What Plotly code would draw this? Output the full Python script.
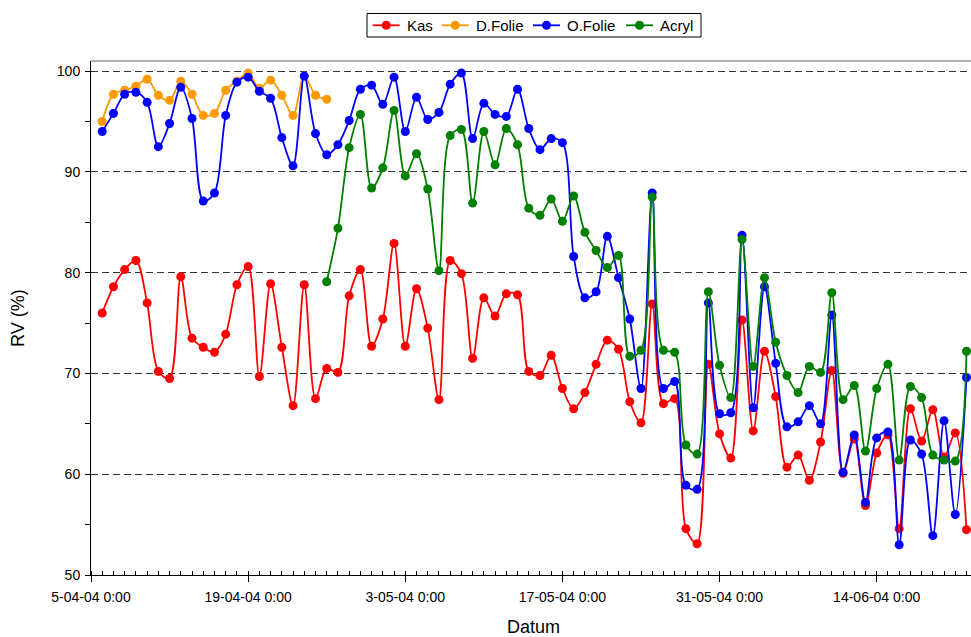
import plotly.graph_objects as go
import pandas as pd

start_date = "2004-04-06"
n_days = 78
dates = pd.date_range(start_date, periods=n_days, freq="D")

kas = [76.0, 78.6, 80.3, 81.2, 77.0, 70.2, 69.5, 79.6, 73.5, 72.6,
       72.1, 73.9, 78.8, 80.6, 69.7, 78.9, 72.6, 66.8, 78.8, 67.5,
       70.5, 70.1, 77.7, 80.3, 72.7, 75.4, 82.9, 72.7, 78.4, 74.5,
       67.4, 81.2, 79.9, 71.5, 77.5, 75.7, 77.9, 77.8, 70.2, 69.8,
       71.8, 68.5, 66.5, 68.1, 70.9, 73.3, 72.4, 67.2, 65.1, 76.9,
       67.0, 67.5, 54.6, 53.1, 70.9, 64.0, 61.6, 75.3, 64.3, 72.2,
       67.7, 60.7, 61.9, 59.4, 63.2, 70.3, 60.1, 63.5, 56.9, 62.1,
       63.9, 54.6, 66.5, 63.3, 66.4, 61.7, 64.1, 54.5]

d_folie = [95.0, 97.7, 98.1, 98.5, 99.2, 97.6, 97.1, 99.0, 97.7, 95.6,
           95.8, 98.1, 99.0, 99.8, 98.3, 99.1, 97.6, 95.6, 99.5, 97.6,
           97.2]

o_folie = [94.0, 95.8, 97.7, 97.9, 96.9, 92.5, 94.8, 98.4, 95.3, 87.1,
           87.9, 95.6, 98.9, 99.4, 98.0, 97.3, 93.4, 90.6, 99.5, 93.8,
           91.7, 92.7, 95.1, 98.2, 98.6, 96.7, 99.4, 94.0, 97.4, 95.2,
           95.9, 98.7, 99.8, 93.3, 96.8, 95.7, 95.5, 98.2, 94.3, 92.2,
           93.3, 92.9, 81.6, 77.5, 78.1, 83.6, 79.5, 75.4, 68.5, 87.9,
           68.5, 69.2, 58.9, 58.5, 77.0, 66.0, 66.1, 83.7, 66.6, 78.6,
           71.0, 64.7, 65.2, 66.8, 65.0, 75.8, 60.2, 63.9, 57.2, 63.6,
           64.2, 53.0, 63.4, 62.0, 53.9, 65.3, 56.0, 69.6]

acryl_start = 20
acryl = [79.1, 84.4, 92.4, 95.7, 88.4, 90.4, 96.1, 89.6, 91.8, 88.3,
         80.2, 93.6, 94.2, 86.9, 94.0, 90.7, 94.3, 92.7, 86.4, 85.7,
         87.3, 85.1, 87.6, 84.0, 82.2, 80.5, 81.7, 71.7, 72.3, 87.5,
         72.3, 72.1, 62.9, 62.0, 78.1, 70.8, 67.6, 83.3, 70.7, 79.5,
         73.1, 69.8, 68.1, 70.7, 70.1, 78.0, 67.4, 68.8, 62.3, 68.5,
         70.9, 61.4, 68.7, 67.6, 61.9, 61.4, 61.3, 72.2]

y_ticks = [50, 60, 70, 80, 90, 100]

series = [
    ("Kas", dates, kas, "#FF0000"),
    ("D.Folie", dates[:len(d_folie)], d_folie, "#FF9900"),
    ("O.Folie", dates, o_folie, "#0000FF"),
    ("Acryl", dates[acryl_start:acryl_start + len(acryl)], acryl, "#008000"),
]

FONT = "Liberation Sans, Arial, sans-serif"

# figure geometry (pixels)
W, H = 971, 637
L, R, T, B = 91, 0, 61, 62
PW, PH = W - L - R, H - T - B


def px(fx):
    return (fx - L) / PW


def py(fy):
    return (H - B - fy) / PH


fig = go.Figure()
for name, x, y, color in series:
    fig.add_trace(go.Scatter(
        x=x, y=y, name=name, mode="lines+markers",
        line=dict(color=color, width=1.8, shape="spline", smoothing=0.9),
        marker=dict(color=color, size=9),
        cliponaxis=False, showlegend=False,
    ))

# manual legend (box, line samples, markers, labels)
shapes = [
    dict(type="line", xref="paper", yref="paper", x0=0, x1=1, y0=1, y1=1,
         line=dict(color="#999999", width=1.5)),
    dict(type="rect", xref="paper", yref="paper",
         x0=px(367), x1=px(701), y0=py(13.5), y1=py(37),
         line=dict(color="black", width=1), fillcolor="white"),
]
annotations = []
legend_x = [372.7, 441.7, 533, 626]
leg_y = 25.3
for (name, _, _, color), lx in zip(series, legend_x):
    shapes.append(dict(type="line", xref="paper", yref="paper",
                       x0=px(lx), x1=px(lx + 27), y0=py(leg_y), y1=py(leg_y),
                       line=dict(color=color, width=1.8)))
    shapes.append(dict(type="circle", xref="paper", yref="paper",
                       xsizemode="pixel", ysizemode="pixel",
                       xanchor=px(lx + 13.5), yanchor=py(leg_y),
                       x0=-4.5, x1=4.5, y0=-4.5, y1=4.5,
                       line=dict(color=color, width=0), fillcolor=color))
    annotations.append(dict(text=name, xref="paper", yref="paper",
                            x=px(lx + 32), y=py(leg_y), xanchor="left",
                            yanchor="middle", showarrow=False,
                            font=dict(family=FONT, size=15, color="black")))

annotations += [
    dict(text="RV (%)", xref="paper", yref="paper",
         x=px(18), y=0.5, xanchor="center", yanchor="middle",
         textangle=-90, showarrow=False,
         font=dict(family=FONT, size=18, color="black")),
    dict(text="Datum", xref="paper", yref="paper",
         x=px(533), y=py(627), xanchor="center", yanchor="middle",
         showarrow=False,
         font=dict(family=FONT, size=18, color="black")),
]

day_ms = 86400000
fig.update_layout(
    width=W, height=H,
    margin=dict(l=L, r=R, t=T, b=B, autoexpand=False),
    paper_bgcolor="white", plot_bgcolor="white",
    font=dict(family=FONT, size=14, color="black"),
    showlegend=False,
    hovermode=False,
    xaxis=dict(
        type="date",
        range=["2004-04-05 00:00", "2004-06-22 09:36"],
        tick0="2004-04-05", dtick=14 * day_ms,
        tickformat="%-d-%m-%y %-H:%M",
        ticks="outside", ticklen=6, tickcolor="black", tickwidth=1,
        ticklabelstandoff=3,
        minor=dict(dtick=day_ms, tick0="2004-04-05", ticks="inside",
                   ticklen=4, tickcolor="black", showgrid=False),
        showline=True, linecolor="black", linewidth=1,
        showgrid=False, zeroline=False,
        tickfont=dict(size=14, color="black"),
        automargin=False,
    ),
    yaxis=dict(
        range=[50, 101],
        tickvals=y_ticks,
        ticks="outside", ticklen=5, tickcolor="black",
        ticklabelstandoff=2,
        minor=dict(dtick=5, tick0=50, ticks="outside", ticklen=5,
                   tickcolor="black", showgrid=False),
        showline=True, linecolor="black", linewidth=1,
        showgrid=True, gridcolor="#333333", gridwidth=1, griddash="7px,4px",
        zeroline=False,
        tickfont=dict(size=14, color="black"),
        automargin=False,
    ),
    shapes=shapes,
    annotations=annotations,
)

fig.write_html(
    "out.html",
    config={"displayModeBar": False},
    post_script="document.body.style.margin='0';"
                "document.body.style.overflow='hidden';",
)
